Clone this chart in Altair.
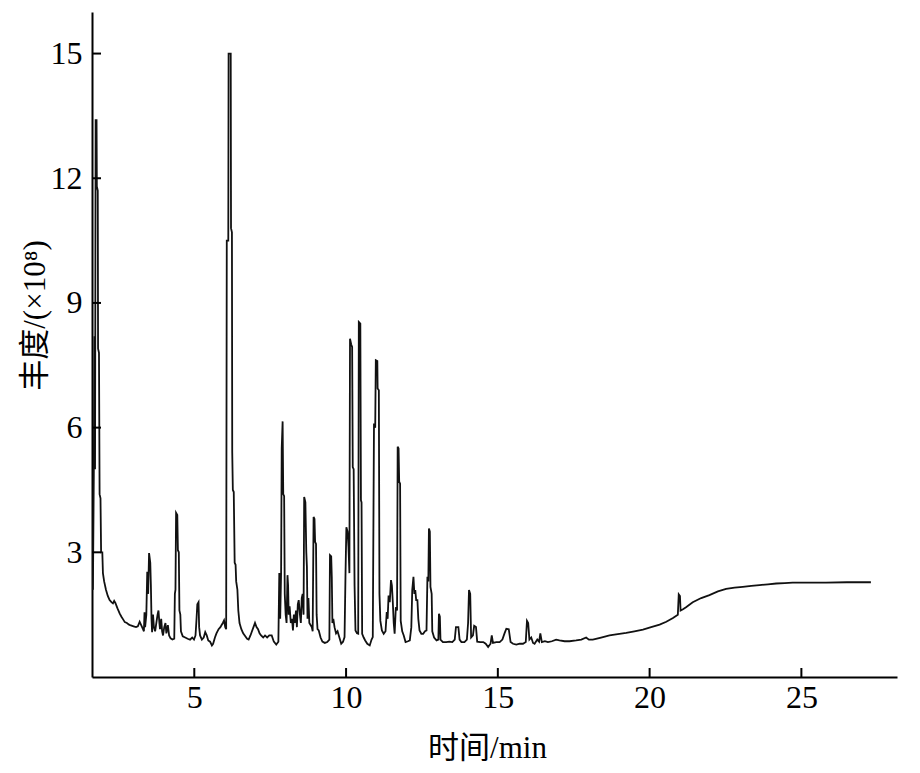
import altair as alt
import pandas as pd

# retention time (min)
time_min = [
    1.63, 1.66, 1.69, 1.71, 1.73, 1.75, 1.78, 1.79, 1.82, 1.83, 1.86, 1.88, 1.91, 1.93, 1.97, 1.99,
    2.03, 2.09, 2.15, 2.21, 2.27, 2.32, 2.36, 2.40, 2.47, 2.54, 2.60, 2.66, 2.71, 2.78, 2.85, 2.91,
    3.00, 3.08, 3.14, 3.20, 3.25, 3.31, 3.34, 3.36, 3.38, 3.42, 3.45, 3.48, 3.51, 3.55, 3.57, 3.59,
    3.61, 3.64, 3.67, 3.71, 3.75, 3.79, 3.82, 3.85, 3.87, 3.91, 3.94, 3.97, 4.01, 4.05, 4.08, 4.13,
    4.17, 4.22, 4.28, 4.34, 4.36, 4.38, 4.40, 4.44, 4.46, 4.49, 4.51, 4.54, 4.56, 4.62, 4.70, 4.78,
    4.86, 4.93, 4.99, 5.04, 5.07, 5.10, 5.14, 5.16, 5.19, 5.25, 5.31, 5.36, 5.41, 5.46, 5.52, 5.58,
    5.62, 5.68, 5.73, 5.80, 5.86, 5.90, 5.94, 5.98, 6.02, 6.05, 6.07, 6.12, 6.13, 6.20, 6.21, 6.24,
    6.25, 6.27, 6.30, 6.33, 6.36, 6.38, 6.42, 6.45, 6.49, 6.55, 6.61, 6.68, 6.74, 6.79, 6.85, 6.90,
    6.95, 7.00, 7.05, 7.10, 7.15, 7.20, 7.27, 7.33, 7.40, 7.47, 7.55, 7.62, 7.70, 7.77, 7.80, 7.83,
    7.86, 7.88, 7.91, 7.93, 7.96, 7.98, 8.01, 8.04, 8.07, 8.09, 8.11, 8.14, 8.18, 8.22, 8.25, 8.28,
    8.31, 8.35, 8.38, 8.41, 8.44, 8.48, 8.51, 8.54, 8.57, 8.60, 8.62, 8.66, 8.69, 8.71, 8.73, 8.76,
    8.79, 8.83, 8.87, 8.90, 8.93, 8.96, 8.98, 9.01, 9.03, 9.06, 9.10, 9.16, 9.22, 9.30, 9.38, 9.45,
    9.47, 9.51, 9.53, 9.55, 9.58, 9.62, 9.67, 9.72, 9.78, 9.84, 9.90, 9.95, 9.98, 10.01, 10.05, 10.08,
    10.11, 10.13, 10.17, 10.20, 10.22, 10.25, 10.28, 10.31, 10.36, 10.40, 10.42, 10.47, 10.49, 10.51, 10.53, 10.58,
    10.63, 10.70, 10.78, 10.84, 10.88, 10.92, 10.96, 10.98, 11.03, 11.04, 11.08, 11.10, 11.13, 11.18, 11.24, 11.30,
    11.34, 11.37, 11.40, 11.44, 11.48, 11.51, 11.54, 11.57, 11.60, 11.64, 11.68, 11.70, 11.73, 11.75, 11.78, 11.80,
    11.85, 11.90, 11.96, 12.04, 12.10, 12.15, 12.18, 12.22, 12.25, 12.28, 12.31, 12.35, 12.38, 12.42, 12.48, 12.54,
    12.60, 12.65, 12.68, 12.71, 12.73, 12.76, 12.78, 12.82, 12.84, 12.90, 12.98, 13.04, 13.06, 13.09, 13.11, 13.19,
    13.30, 13.40, 13.50, 13.58, 13.62, 13.70, 13.74, 13.80, 13.90, 13.98, 14.02, 14.05, 14.09, 14.12, 14.18, 14.22,
    14.28, 14.32, 14.42, 14.52, 14.60, 14.68, 14.76, 14.80, 14.84, 14.95, 15.06, 15.15, 15.22, 15.28, 15.36, 15.42,
    15.50, 15.61, 15.72, 15.83, 15.92, 15.96, 16.00, 16.04, 16.10, 16.16, 16.21, 16.30, 16.36, 16.40, 16.45, 16.55,
    16.65, 16.78, 16.92, 17.03, 17.20, 17.36, 17.58, 17.75, 17.91, 18.00, 18.13, 18.40, 18.68, 18.95, 19.23, 19.50,
    19.78, 20.05, 20.33, 20.55, 20.77, 20.93, 20.96, 21.00, 21.02, 21.10, 21.20, 21.42, 21.70, 21.97, 22.25, 22.52,
    22.80, 23.07, 23.35, 23.62, 23.90, 24.17, 24.45, 24.71, 25.30, 25.81, 26.50, 27.29,
]

# abundance (x10^8)
abundance = [
    2.20, 2.10, 4.90, 8.20, 5.00, 13.40, 13.40, 11.80, 11.70, 7.90, 7.80, 4.40, 4.30, 3.00, 3.00, 2.50,
    2.30, 2.10, 1.95, 1.85, 1.80, 1.77, 1.83, 1.78, 1.65, 1.53, 1.45, 1.38, 1.32, 1.30, 1.26, 1.24,
    1.22, 1.20, 1.22, 1.33, 1.25, 1.15, 1.10, 1.56, 1.20, 1.50, 2.53, 2.00, 2.98, 2.75, 2.20, 1.40,
    1.08, 1.50, 1.20, 1.10, 1.30, 1.50, 1.60, 1.30, 1.15, 1.40, 1.10, 1.00, 1.20, 1.30, 1.05, 1.25,
    1.00, 0.93, 0.90, 0.92, 2.00, 2.10, 3.95, 3.90, 3.05, 3.00, 1.60, 1.50, 1.10, 0.98, 0.95, 0.92,
    0.90, 0.95, 0.90, 1.00, 1.35, 1.75, 1.80, 1.20, 1.00, 0.90, 0.95, 1.08, 1.00, 0.88, 0.85, 0.76,
    0.80, 0.95, 1.05, 1.15, 1.20, 1.25, 1.30, 1.36, 1.20, 1.15, 10.50, 10.50, 15.00, 15.00, 10.80, 10.70,
    5.40, 4.50, 4.45, 2.75, 2.70, 2.30, 2.10, 1.60, 1.30, 1.15, 1.05, 0.98, 0.92, 0.90, 1.00, 1.10,
    1.20, 1.30, 1.20, 1.15, 1.05, 1.00, 0.95, 1.00, 0.95, 1.00, 1.00, 0.85, 0.78, 0.85, 2.50, 1.40,
    2.50, 5.50, 6.15, 4.40, 4.35, 2.00, 1.50, 1.30, 2.45, 2.20, 1.50, 1.70, 1.30, 1.40, 1.12, 1.50,
    1.30, 1.60, 1.20, 1.75, 1.85, 1.50, 1.30, 1.90, 2.00, 1.50, 4.33, 4.20, 3.00, 2.65, 1.40, 1.90,
    1.30, 1.25, 1.20, 1.10, 3.85, 3.80, 3.25, 3.20, 1.50, 1.15, 1.12, 0.95, 0.85, 0.82, 0.84, 0.90,
    2.93, 2.90, 2.40, 1.30, 1.40, 1.20, 1.05, 1.10, 0.95, 0.80, 0.85, 0.96, 2.40, 3.60, 3.50, 3.13,
    2.50, 8.14, 8.00, 7.94, 5.05, 5.00, 2.20, 1.12, 1.05, 1.04, 8.54, 8.50, 4.25, 4.20, 1.04, 0.95,
    0.88, 0.80, 0.76, 0.90, 0.96, 6.10, 6.00, 7.62, 7.60, 6.94, 6.90, 2.00, 1.35, 1.12, 1.04, 1.10,
    1.56, 1.40, 1.96, 1.80, 2.33, 2.20, 1.80, 1.30, 1.04, 1.68, 1.60, 5.54, 5.50, 4.70, 4.65, 1.35,
    1.10, 1.00, 0.84, 0.86, 0.88, 1.20, 2.09, 2.41, 2.00, 2.09, 1.85, 1.85, 1.40, 1.12, 1.04, 1.04,
    1.10, 1.12, 2.41, 2.30, 3.57, 3.50, 2.17, 2.00, 1.10, 0.95, 0.88, 0.90, 1.52, 1.45, 0.90, 0.84,
    0.84, 0.85, 0.84, 0.90, 1.20, 1.20, 0.90, 0.84, 0.84, 0.90, 1.30, 2.09, 2.00, 0.95, 1.00, 1.23,
    1.20, 0.85, 0.84, 0.84, 0.80, 0.72, 0.80, 1.00, 0.82, 0.84, 0.84, 0.90, 1.05, 1.16, 1.15, 0.84,
    0.80, 0.78, 0.80, 0.80, 0.84, 1.35, 1.30, 0.90, 0.95, 0.82, 0.80, 0.90, 0.85, 1.05, 0.84, 0.86,
    0.84, 0.86, 0.90, 0.88, 0.86, 0.86, 0.88, 0.90, 0.95, 0.90, 0.90, 0.95, 1.00, 1.03, 1.06, 1.10,
    1.14, 1.20, 1.26, 1.33, 1.42, 1.50, 1.99, 1.95, 1.60, 1.63, 1.68, 1.80, 1.90, 1.97, 2.06, 2.12,
    2.15, 2.17, 2.19, 2.21, 2.23, 2.25, 2.26, 2.27, 2.27, 2.27, 2.28, 2.28,
]

x_ticks = [5, 10, 15, 20, 25]
y_ticks = [3, 6, 9, 12, 15]

df = pd.DataFrame({"t": time_min, "a": abundance})
xt = pd.DataFrame({"t": x_ticks})
yt = pd.DataFrame({"a": y_ticks})

FONT = "Liberation Serif, Times New Roman, Noto Sans CJK SC"
xs = alt.Scale(domain=[1.63, 28.15], nice=False, zero=False)
ys = alt.Scale(domain=[0, 16], nice=False, zero=False)

x_axis = alt.Axis(
    values=x_ticks, title="时间/min", ticks=False, grid=False,
    domainColor="#000000", domainWidth=2, labelPadding=5,
    labelFont=FONT, labelFontSize=32, labelColor="#000000",
    titleFont=FONT, titleFontSize=31, titleFontWeight="normal", titleColor="#000000",
    titleBaseline="alphabetic", titleY=80, titleX=395)
y_axis = alt.Axis(
    values=y_ticks, title="丰度/(×10⁸)", ticks=False, grid=False,
    domainColor="#000000", domainWidth=2, labelPadding=10,
    labelFont=FONT, labelFontSize=32, labelColor="#000000",
    titleFont=FONT, titleFontSize=31, titleFontWeight="normal", titleColor="#000000",
    titleAngle=270, titleBaseline="middle", titleX=-57, titleY=303)

line = alt.Chart(df).mark_line(color="#111111", strokeWidth=1.8, clip=True).encode(
    x=alt.X("t:Q", scale=xs, axis=x_axis),
    y=alt.Y("a:Q", scale=ys, axis=y_axis),
)

ytick_marks = alt.Chart(yt).mark_rule(color="#000000", strokeWidth=2).encode(
    y=alt.Y("a:Q", scale=ys, axis=y_axis),
    x=alt.value(0), x2=alt.value(9),
)
xtick_marks = alt.Chart(xt).mark_rule(color="#000000", strokeWidth=2).encode(
    x=alt.X("t:Q", scale=xs, axis=x_axis),
    y=alt.value(665), y2=alt.value(656),
)

chart = alt.layer(line, ytick_marks, xtick_marks).properties(
    width=805, height=665,
    background="#ffffff",
    autosize=alt.AutoSizeParams(type="none"),
    padding={"left": 84, "top": 4, "right": 15, "bottom": 90},
).configure_view(strokeWidth=0, stroke="transparent")

chart.save("out.html", embed_options={"renderer": "svg", "actions": False})
